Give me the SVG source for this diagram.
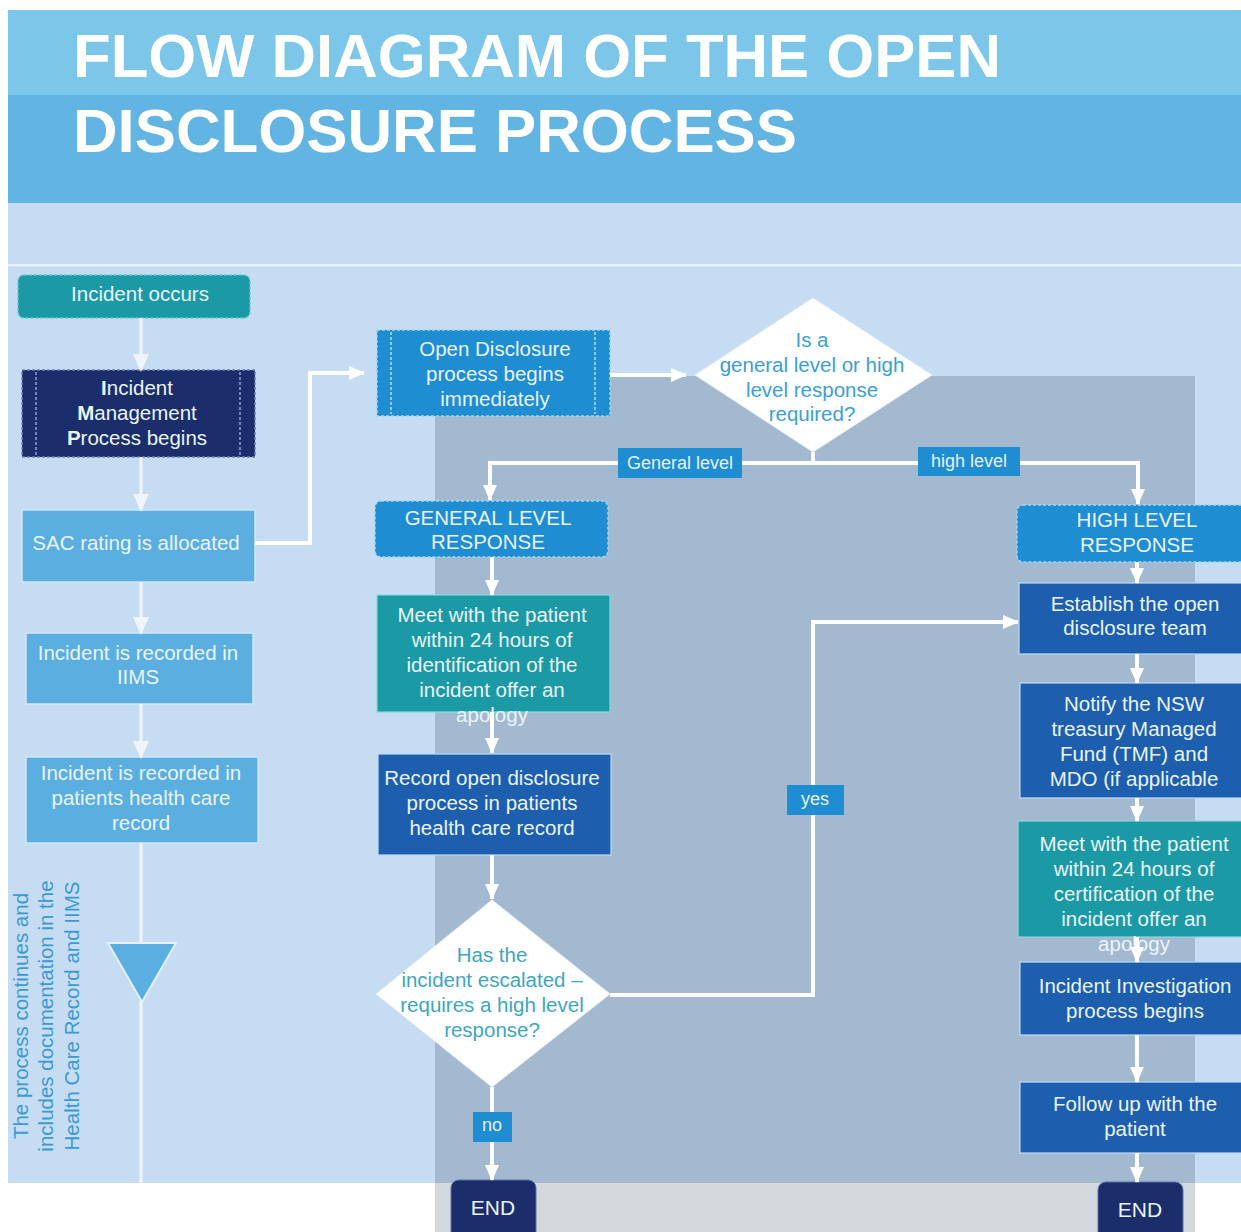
<svg xmlns="http://www.w3.org/2000/svg" width="1241" height="1232" viewBox="0 0 1241 1232">
<defs>
<style>
.t{font-family:"Liberation Sans",Arial,sans-serif;font-size:20.5px;fill:#eaf4fb;text-anchor:middle}
.q{font-family:"Liberation Sans",Arial,sans-serif;font-size:20.5px;text-anchor:middle}
.lb{font-family:"Liberation Sans",Arial,sans-serif;font-size:18px;fill:#e6f2fb;text-anchor:middle}
.ttl{font-family:"Liberation Sans",Arial,sans-serif;font-size:62px;font-weight:bold;fill:#ffffff}
.side{font-family:"Liberation Sans",Arial,sans-serif;font-size:20.5px;fill:#3a9ad4;text-anchor:middle}
.teal{fill:#1b9aa5}
.navy{fill:#1b2e6b}
.lite{fill:#5aafe0;stroke:#cfe6f7;stroke-width:1.5}
.bri{fill:#1e8dd2}
.med{fill:#1d5fae;stroke:#bcdcf3;stroke-width:1.2}
.dash{stroke:#9fd6f0;stroke-width:1.5;stroke-dasharray:3 2}
.ln{fill:none;stroke:#ffffff;stroke-width:4}
.lnl{fill:none;stroke:#eef5fc;stroke-width:3}
.lab{fill:#1e8dd2}
</style>
<marker id="ah" markerWidth="16" markerHeight="14" refX="15" refY="7" orient="auto" markerUnits="userSpaceOnUse">
<path d="M0,0 L16,7 L0,14 z" fill="#ffffff"/>
</marker>
<marker id="ahl" markerWidth="18" markerHeight="16" refX="16" refY="8" orient="auto" markerUnits="userSpaceOnUse">
<path d="M0,0 L18,8 L0,16 z" fill="#eef5fc"/>
</marker>
</defs>

<g id="background">
<rect x="0" y="0" width="1241" height="1232" fill="#ffffff"/>
<rect x="8" y="10" width="1233" height="86" fill="#7cc6e9"/>
<rect x="8" y="95" width="1233" height="108" fill="#62b4e2"/>
<rect x="8" y="203" width="1233" height="980" fill="#c6dcf2"/>
<rect x="8" y="264" width="1233" height="2.5" fill="#e6f1fb"/>
<rect x="435" y="376" width="760" height="807" fill="#a3b9cf"/>
<rect x="435" y="1183" width="760" height="49" fill="#d3d8dd"/>
<text class="ttl" x="73" y="77" textLength="928" lengthAdjust="spacingAndGlyphs">FLOW DIAGRAM OF THE OPEN</text>
<text class="ttl" x="73" y="152" textLength="724" lengthAdjust="spacingAndGlyphs">DISCLOSURE PROCESS</text>
<text class="side" transform="translate(28,1016) rotate(-90)">The process continues and</text>
<text class="side" transform="translate(53,1016) rotate(-90)">includes documentation in the</text>
<text class="side" transform="translate(79,1016) rotate(-90)">Health Care Record and IIMS</text>
</g>

<g id="n-incident-occurs">
<rect x="18" y="275" width="232" height="43" rx="6" class="teal dash" style="stroke:#6cc6cf"/>
<text class="t" x="140" y="301">Incident occurs</text>
</g>

<g id="n-imp">
<rect x="22" y="370" width="233" height="87" class="navy dash" style="stroke:#6f82b8"/>
<line x1="36" y1="372" x2="36" y2="455" stroke="#8ea3d6" stroke-width="1.5" stroke-dasharray="3 2"/>
<line x1="240" y1="372" x2="240" y2="455" stroke="#8ea3d6" stroke-width="1.5" stroke-dasharray="3 2"/>
<text class="t" x="137" y="395"><tspan font-weight="bold">I</tspan>ncident</text>
<text class="t" x="137" y="420"><tspan font-weight="bold">M</tspan>anagement</text>
<text class="t" x="137" y="445"><tspan font-weight="bold">P</tspan>rocess begins</text>
</g>

<g id="n-sac">
<rect x="22" y="510" width="233" height="72" class="lite"/>
<text class="t" x="136" y="550">SAC rating is allocated</text>
</g>

<g id="n-iims">
<rect x="26" y="633" width="227" height="71" class="lite"/>
<text class="t" x="138" y="660">Incident is recorded in</text>
<text class="t" x="138" y="684">IIMS</text>
</g>

<g id="n-record-left">
<rect x="26" y="757" width="232" height="86" class="lite"/>
<text class="t" x="141" y="780">Incident is recorded in</text>
<text class="t" x="141" y="805">patients health care</text>
<text class="t" x="141" y="830">record</text>
</g>

<g id="n-od-begins">
<rect x="377" y="330" width="233" height="86" class="bri dash"/>
<line x1="391" y1="332" x2="391" y2="414" stroke="#b5e0f5" stroke-width="1.5" stroke-dasharray="3 2"/>
<line x1="595" y1="332" x2="595" y2="414" stroke="#b5e0f5" stroke-width="1.5" stroke-dasharray="3 2"/>
<text class="t" x="495" y="356">Open Disclosure</text>
<text class="t" x="495" y="381">process begins</text>
<text class="t" x="495" y="406">immediately</text>
</g>

<g id="n-decision-level">
<polygon points="813,298 932,375 813,452 695,375" fill="#ffffff" stroke="#e6f1fa" stroke-width="1"/>
<text class="q" x="812" y="347" fill="#3c9fd6">Is a</text>
<text class="q" x="812" y="372" fill="#3c9fd6">general level or high</text>
<text class="q" x="812" y="397" fill="#3c9fd6">level response</text>
<text class="q" x="812" y="421" fill="#3c9fd6">required?</text>
</g>

<g id="n-glr">
<rect x="375" y="501" width="233" height="56" rx="6" class="bri dash"/>
<text class="t" x="488" y="525">GENERAL LEVEL</text>
<text class="t" x="488" y="549">RESPONSE</text>
</g>

<g id="n-meet-general">
<rect x="377" y="595" width="233" height="117" class="teal" stroke="#8fd6dc" stroke-width="1.2"/>
<text class="t" x="492" y="622">Meet with the patient</text>
<text class="t" x="492" y="647">within 24 hours of</text>
<text class="t" x="492" y="672">identification of the</text>
<text class="t" x="492" y="697">incident offer an</text>
<text class="t" x="492" y="722">apology</text>
</g>

<g id="n-record-od">
<rect x="378" y="754" width="233" height="101" class="med"/>
<text class="t" x="492" y="785">Record open disclosure</text>
<text class="t" x="492" y="810">process in patients</text>
<text class="t" x="492" y="835">health care record</text>
</g>

<g id="n-decision-escalated">
<polygon points="492,900 610,994 492,1087 376,994" fill="#ffffff" stroke="#e6f1fa" stroke-width="1"/>
<text class="q" x="492" y="962" fill="#3ea6c2">Has the</text>
<text class="q" x="492" y="987" fill="#3ea6c2">incident escalated –</text>
<text class="q" x="492" y="1012" fill="#3ea6c2">requires a high level</text>
<text class="q" x="492" y="1037" fill="#3ea6c2">response?</text>
</g>

<g id="n-end-general">
<rect x="451" y="1180" width="85" height="62" rx="8" class="navy" stroke="#5a6fa8" stroke-width="1"/>
<text class="t" x="493" y="1215" style="font-size:21px">END</text>
</g>

<g id="n-hlr">
<rect x="1017" y="505" width="232" height="57" rx="6" class="bri dash"/>
<text class="t" x="1137" y="527">HIGH LEVEL</text>
<text class="t" x="1137" y="552">RESPONSE</text>
</g>

<g id="n-establish">
<rect x="1019" y="583" width="230" height="71" class="med"/>
<text class="t" x="1135" y="611">Establish the open</text>
<text class="t" x="1135" y="635">disclosure team</text>
</g>

<g id="n-notify">
<rect x="1020" y="683" width="229" height="115" class="med"/>
<text class="t" x="1134" y="711">Notify the NSW</text>
<text class="t" x="1134" y="736">treasury Managed</text>
<text class="t" x="1134" y="761">Fund (TMF) and</text>
<text class="t" x="1134" y="786">MDO (if applicable</text>
</g>

<g id="n-meet-high">
<rect x="1018" y="821" width="231" height="116" class="teal" stroke="#8fd6dc" stroke-width="1.2"/>
<text class="t" x="1134" y="851">Meet with the patient</text>
<text class="t" x="1134" y="876">within 24 hours of</text>
<text class="t" x="1134" y="901">certification of the</text>
<text class="t" x="1134" y="926">incident offer an</text>
<text class="t" x="1134" y="951">apology</text>
</g>

<g id="n-investigation">
<rect x="1020" y="962" width="229" height="73" class="med"/>
<text class="t" x="1135" y="993">Incident Investigation</text>
<text class="t" x="1135" y="1018">process begins</text>
</g>

<g id="n-follow-up">
<rect x="1020" y="1082" width="229" height="71" class="med"/>
<text class="t" x="1135" y="1111">Follow up with the</text>
<text class="t" x="1135" y="1136">patient</text>
</g>

<g id="n-end-high">
<rect x="1098" y="1182" width="85" height="62" rx="8" class="navy" stroke="#5a6fa8" stroke-width="1"/>
<text class="t" x="1140" y="1217" style="font-size:21px">END</text>
</g>

<g id="connectors">
<path class="lnl" d="M141,318 V370" marker-end="url(#ahl)"/>
<path class="lnl" d="M141,457 V510" marker-end="url(#ahl)"/>
<path class="lnl" d="M141,582 V633" marker-end="url(#ahl)"/>
<path class="lnl" d="M141,704 V757" marker-end="url(#ahl)"/>
<path class="lnl" d="M141,843 V1183"/>
<polygon points="108,943 176,943 142,1002" fill="#5aafe0" stroke="#e3f0fa" stroke-width="2"/>
<path class="ln" d="M255,543 H310 V373 H364" marker-end="url(#ah)"/>
<path class="ln" d="M610,375 H686" marker-end="url(#ah)"/>
<path class="ln" d="M813,452 V463 H490 V500" marker-end="url(#ah)"/>
<path class="ln" d="M813,463 H1138 V504" marker-end="url(#ah)"/>
<path class="ln" d="M492,557 V595" marker-end="url(#ah)"/>
<path class="ln" d="M492,712 V753" marker-end="url(#ah)"/>
<path class="ln" d="M492,855 V899" marker-end="url(#ah)"/>
<path class="ln" d="M610,995 H813 V622 H1018" marker-end="url(#ah)"/>
<path class="ln" d="M492,1087 V1180" marker-end="url(#ah)"/>
<path class="ln" d="M1137,562 V583" marker-end="url(#ah)"/>
<path class="ln" d="M1137,654 V683" marker-end="url(#ah)"/>
<path class="ln" d="M1137,798 V821" marker-end="url(#ah)"/>
<path class="ln" d="M1137,937 V962" marker-end="url(#ah)"/>
<path class="ln" d="M1137,1035 V1082" marker-end="url(#ah)"/>
<path class="ln" d="M1137,1153 V1182" marker-end="url(#ah)"/>
</g>

<g id="labels">
<rect x="618" y="448" width="124" height="30" class="lab"/>
<text class="lb" x="680" y="469">General level</text>
<rect x="918" y="447" width="102" height="29" class="lab"/>
<text class="lb" x="969" y="467">high level</text>
<rect x="787" y="785" width="57" height="30" class="lab"/>
<text class="lb" x="815" y="805">yes</text>
<rect x="473" y="1112" width="39" height="30" class="lab"/>
<text class="lb" x="492" y="1131">no</text>
</g>
</svg>
